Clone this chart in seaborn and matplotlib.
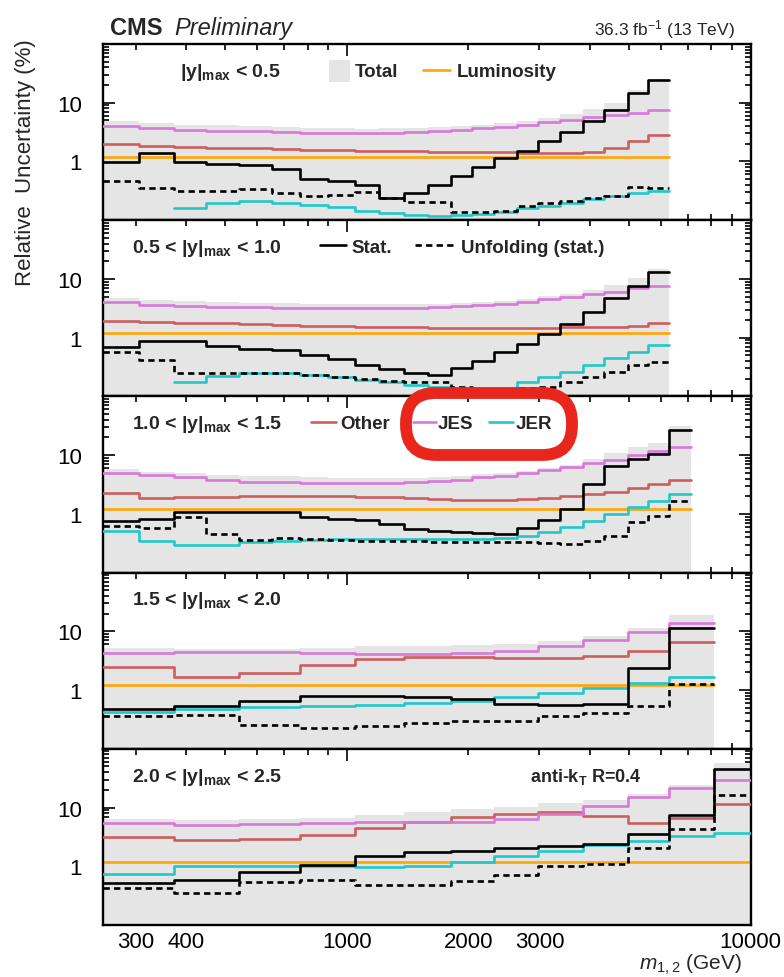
import matplotlib
matplotlib.use("Agg")
import matplotlib.pyplot as plt
import seaborn as sns
from matplotlib.ticker import FixedLocator, FuncFormatter, LogLocator, NullFormatter
from matplotlib.patches import Rectangle, FancyBboxPatch
from matplotlib.lines import Line2D
from matplotlib.transforms import IdentityTransform

sns.set_style("ticks")
plt.rcParams["font.family"] = ["Liberation Sans", "DejaVu Sans"]
plt.rcParams["mathtext.fontset"] = "custom"
plt.rcParams["mathtext.rm"] = "Liberation Sans"
plt.rcParams["mathtext.it"] = "Liberation Sans:italic"
plt.rcParams["mathtext.bf"] = "Liberation Sans:bold"

# ---------------- data ----------------
EDGES_FINE = [249, 306, 373, 447, 542, 651, 764, 897, 1047, 1201, 1385, 1589, 1813,
              2044, 2317, 2644, 2980, 3380, 3855, 4346, 4986, 5560, 6270, 7130]
EDGES_COARSE = [249, 373, 542, 764, 1047, 1385, 1813, 2317, 2980, 3855, 4986, 6270, 8100, 10000]

LUMI = 1.2

P1_TOTAL = [4.8, 4.55, 4.25, 4.1, 4.0, 3.85, 3.72, 3.66, 3.64, 3.65, 3.7, 3.85, 4.03, 4.22, 4.5, 4.86, 5.5, 6.37, 7.83, 10.0, 16.2, 25.3]
P1_JES = [3.96, 3.66, 3.48, 3.34, 3.26, 3.13, 3.05, 3.01, 3.01, 3.05, 3.13, 3.30, 3.48, 3.66, 3.91, 4.18, 4.64, 5.15, 5.72, 6.18, 6.69, 7.43]
P1_OTHER = [1.98, 1.86, 1.79, 1.72, 1.67, 1.63, 1.59, 1.55, 1.53, 1.51, 1.49, 1.47, 1.47, 1.45, 1.43, 1.39, 1.39, 1.38, 1.47, 1.7, 2.2, 2.85]
P1_STAT = [0.99, 1.38, 0.97, 0.92, 0.87, 0.745, 0.50, 0.47, 0.39, 0.235, 0.286, 0.40, 0.57, 0.795, 1.13, 1.53, 2.26, 3.22, 4.95, 7.62, 14.5, 24.0]
P1_UNF = [0.47, 0.353, 0.318, 0.318, 0.34, 0.29, 0.262, 0.268, 0.306, 0.235, 0.201, 0.201, 0.14, 0.136, 0.145, 0.177, 0.194, 0.215, 0.235, 0.262, 0.372, 0.349]
P1_JER = [None, None, 0.161, 0.20, 0.21, 0.20, 0.184, 0.17, 0.145, 0.133, 0.124, 0.119, 0.123, 0.128, 0.14, 0.159, 0.177, 0.20, 0.23, 0.255, 0.29, 0.31]

P2_TOTAL = [4.69, 4.36, 4.21, 4.07, 3.96, 3.86, 3.79, 3.76, 3.74, 3.72, 3.74, 3.8, 3.91, 4.09, 4.27, 4.58, 5.07, 5.62, 6.5, 7.93, 10.5, 14.5]
P2_JES = [4.0, 3.65, 3.51, 3.37, 3.28, 3.2, 3.16, 3.16, 3.16, 3.16, 3.2, 3.28, 3.41, 3.6, 3.79, 4.1, 4.55, 4.99, 5.54, 6.07, 7.01, 7.68]
P2_OTHER = [1.94, 1.82, 1.78, 1.75, 1.71, 1.67, 1.6, 1.56, 1.54, 1.5, 1.5, 1.46, 1.46, 1.44, 1.44, 1.44, 1.46, 1.5, 1.5, 1.54, 1.6, 1.75]
P2_STAT = [0.684, 0.887, 0.865, 0.73, 0.64, 0.625, 0.514, 0.434, 0.347, 0.293, 0.247, 0.235, 0.30, 0.405, 0.562, 0.78, 1.15, 1.71, 2.77, 4.67, 7.48, 12.9]
P2_UNF = [0.578, 0.423, 0.251, 0.251, 0.251, 0.251, 0.235, 0.211, 0.198, 0.185, 0.173, 0.173, 0.143, 0.135, 0.135, 0.14, 0.143, 0.173, 0.211, 0.263, 0.342, 0.38]
P2_JER = [None, None, 0.178, 0.225, 0.247, 0.25, 0.235, 0.211, 0.193, 0.173, 0.155, 0.143, 0.133, 0.13, 0.13, 0.173, 0.211, 0.257, 0.342, 0.45, 0.578, 0.75]

P3_TOTAL = [5.7, 5.2, 4.97, 4.62, 4.4, 4.34, 4.2, 4.16, 4.14, 4.1, 4.15, 4.24, 4.43, 4.74, 4.99, 5.41, 6.09, 6.76, 8.44, 10.95, 13.6, 16.1, 30.8]
P3_JES = [4.96, 4.59, 4.19, 3.82, 3.53, 3.44, 3.31, 3.31, 3.31, 3.31, 3.44, 3.58, 3.82, 4.19, 4.47, 4.9, 5.58, 6.2, 7.35, 8.37, 10.05, 11.6, 13.6]
P3_OTHER = [2.27, 1.84, 1.91, 1.96, 1.99, 2.04, 2.04, 1.99, 1.96, 1.91, 1.86, 1.79, 1.75, 1.72, 1.72, 1.79, 1.86, 1.99, 2.18, 2.39, 2.72, 3.23, 3.82]
P3_STAT = [0.765, 0.818, 1.06, 1.06, 1.09, 1.06, 0.895, 0.818, 0.787, 0.673, 0.553, 0.518, 0.485, 0.466, 0.454, 0.567, 0.787, 1.21, 3.23, 6.46, 8.6, 10.5, 27.2]
P3_UNF = [0.63, 0.567, 0.895, 0.454, 0.359, 0.383, 0.373, 0.364, 0.35, 0.35, 0.345, 0.336, 0.336, 0.336, 0.336, 0.33, 0.319, 0.307, 0.35, 0.426, 0.736, 0.908, 1.68]
P3_JER = [0.518, 0.35, 0.299, 0.299, 0.328, 0.35, 0.364, 0.373, 0.373, 0.373, 0.373, 0.373, 0.373, 0.373, 0.383, 0.426, 0.497, 0.605, 0.765, 0.995, 1.29, 1.68, 2.18]

P4_TOTAL = [5.12, 5.01, 5.03, 5.28, 5.54, 5.69, 5.87, 6.07, 6.75, 8.32, 11.3, 19.1]
P4_JES = [4.28, 4.5, 4.39, 4.28, 4.11, 4.11, 4.28, 4.69, 5.56, 7.21, 9.86, 13.9]
P4_OTHER = [2.44, 1.64, 1.95, 2.67, 3.38, 3.61, 3.7, 3.52, 3.47, 3.75, 4.69, 6.5]
P4_STAT = [0.476, 0.542, 0.66, 0.803, 0.782, 0.752, 0.705, 0.579, 0.557, 0.57, 2.38, 11.2]
P4_UNF = [0.366, 0.381, 0.254, 0.223, 0.248, 0.275, 0.294, 0.301, 0.366, 0.406, 0.542, 1.27]
P4_JER = [0.418, 0.476, 0.508, 0.542, 0.557, 0.594, 0.643, 0.752, 0.879, 1.07, 1.32, 1.65]

P5_TOTAL = [6.47, 6.03, 6.29, 6.73, 7.47, 8.28, 9.27, 10.4, 11.8, 13.5, 16.7, 24.1, 57.9]
P5_JES = [5.45, 5.05, 5.25, 5.45, 5.6, 5.6, 5.74, 6.38, 7.76, 10.8, 14.9, 21.2, 29.8]
P5_OTHER = [3.11, 2.8, 2.91, 3.4, 4.43, 5.6, 6.81, 7.76, 8.28, 7.28, 5.45, 6.64, 11.5]
P5_STAT = [0.519, 0.592, 0.809, 1.05, 1.48, 1.73, 1.84, 2.02, 2.18, 2.39, 3.55, 7.47, 45.3]
P5_UNF = [0.421, 0.351, 0.547, 0.592, 0.486, 0.486, 0.569, 0.71, 1.0, 1.09, 2.05, 4.32, 16.4]
P5_JER = [0.74, 1.03, 1.03, 1.03, 0.96, 1.03, 1.2, 1.48, 1.84, 2.3, 2.73, 3.24, 3.69]

PANEL_LABELS = [r"$\mathbf{|y|_{max}}$ < 0.5",
                r"0.5 < $\mathbf{|y|_{max}}$ < 1.0",
                r"1.0 < $\mathbf{|y|_{max}}$ < 1.5",
                r"1.5 < $\mathbf{|y|_{max}}$ < 2.0",
                r"2.0 < $\mathbf{|y|_{max}}$ < 2.5"]

X_TICK_LABELS = {300: "300", 400: "400", 1000: "1000", 2000: "2000", 3000: "3000", 10000: "10000"}

PANELS = [
    (EDGES_FINE, P1_TOTAL, P1_JES, P1_OTHER, P1_STAT, P1_UNF, P1_JER),
    (EDGES_FINE, P2_TOTAL, P2_JES, P2_OTHER, P2_STAT, P2_UNF, P2_JER),
    (EDGES_FINE, P3_TOTAL, P3_JES, P3_OTHER, P3_STAT, P3_UNF, P3_JER),
    (EDGES_COARSE, P4_TOTAL, P4_JES, P4_OTHER, P4_STAT, P4_UNF, P4_JER),
    (EDGES_COARSE, P5_TOTAL, P5_JES, P5_OTHER, P5_STAT, P5_UNF, P5_JER),
]

# ---------------- style ----------------
C_TOTAL = "#e5e5e5"
C_JES = "#da78da"
C_OTHER = "#cc5e5e"
C_JER = "#22c8c8"
C_LUMI = "#ffa500"
C_STAT = "black"
LW = 1.9
DASH = (0, (2.4, 1.6))


def step(ax, edges, vals, color, ls="-", z=3):
    idx = [i for i, v in enumerate(vals) if v is not None]
    i0, i1 = idx[0], idx[-1]
    x = list(edges[i0:i1 + 2])
    y = [vals[i] for i in range(i0, i1 + 1)]
    y = y + [y[-1]]
    sns.lineplot(x=x, y=y, drawstyle="steps-post", estimator=None, sort=False,
                 color=color, lw=LW, linestyle=ls, ax=ax, legend=False, zorder=z)


W, H = 784, 978
L, R = 103, 750.5
TOP, BOT = 45, 926
PH = (BOT - TOP) / 5

fig = plt.figure(figsize=(W / 100, H / 100), dpi=100)

minor_x = [300, 400, 500, 600, 700, 800, 900, 2000, 3000, 4000, 5000, 6000, 7000, 8000, 9000]

for k, (edges, tot, jes, oth, stat, unf, jer) in enumerate(PANELS):
    y0 = TOP + k * PH
    ax = fig.add_axes([L / W, 1 - (y0 + PH) / H, (R - L) / W, PH / H])
    ax.set_xscale("log")
    ax.set_yscale("log")
    nb = len(tot)
    e = edges[:nb + 1]
    ax.fill_between(e, list(tot) + [tot[-1]], 1e-3, step="post", color=C_TOTAL, lw=0, zorder=1)
    step(ax, e, [LUMI] * nb, C_LUMI, z=2)
    step(ax, e, oth, C_OTHER, z=3)
    step(ax, e, jes, C_JES, z=3)
    step(ax, e, jer, C_JER, z=4)
    step(ax, e, unf, C_STAT, ls=DASH, z=5)
    step(ax, e, stat, C_STAT, z=6)

    ax.set_xlim(249, 10000)
    ax.set_ylim(0.1, 100)
    ax.set_xlabel("")
    ax.set_ylabel("")

    ax.xaxis.set_major_locator(FixedLocator([1000, 10000]))
    ax.xaxis.set_minor_locator(FixedLocator(minor_x))
    ax.yaxis.set_major_locator(FixedLocator([0.1, 1, 10, 100]))
    ax.yaxis.set_minor_locator(LogLocator(base=10, subs=[2, 3, 4, 5, 6, 7, 8, 9]))
    ax.yaxis.set_major_formatter(FuncFormatter(lambda v, p: {1: "1", 10: "10"}.get(round(v, 3), "")))
    ax.yaxis.set_minor_formatter(NullFormatter())
    if k == 4:
        fmt = FuncFormatter(lambda v, p: X_TICK_LABELS.get(int(round(v)), ""))
        ax.xaxis.set_major_formatter(fmt)
        ax.xaxis.set_minor_formatter(fmt)
    else:
        ax.xaxis.set_major_formatter(NullFormatter())
        ax.xaxis.set_minor_formatter(NullFormatter())

    ax.tick_params(which="both", direction="in", top=True, right=True, width=1.2,
                   labelsize=16, colors="black")
    ax.tick_params(which="major", length=8.8)
    ax.tick_params(which="minor", length=4.3)
    ax.tick_params(axis="y", which="both", pad=15)
    ax.tick_params(axis="x", which="both", pad=4)
    for s in ax.spines.values():
        s.set_linewidth(1.7)
        s.set_color("black")

    lx = 0.119 if k == 0 else 0.045
    ax.text(lx, 0.82, PANEL_LABELS[k], transform=ax.transAxes, fontsize=14,
            fontweight="bold", ha="left", va="baseline", zorder=10)

    def key_line(x0, x1, yy, color, ls="-"):
        ax.add_line(Line2D([x0, x1], [yy, yy], transform=ax.transAxes, color=color,
                           lw=LW, linestyle=ls, zorder=10))

    def key_text(x0, s):
        ax.text(x0, 0.82, s, transform=ax.transAxes, fontsize=13.5, fontweight="bold",
                ha="left", va="baseline", zorder=10)

    if k == 0:
        ax.add_patch(Rectangle((0.349, 0.784), 0.033, 0.125, transform=ax.transAxes,
                               facecolor=C_TOTAL, edgecolor="none", zorder=10))
        key_text(0.389, "Total")
        key_line(0.494, 0.536, 0.85, C_LUMI)
        key_text(0.547, "Luminosity")
    elif k == 1:
        key_line(0.335, 0.375, 0.858, C_STAT)
        key_text(0.383, "Stat.")
        key_line(0.482, 0.541, 0.858, C_STAT, DASH)
        key_text(0.553, "Unfolding (stat.)")
    elif k == 2:
        key_line(0.321, 0.360, 0.853, C_OTHER)
        key_text(0.366, "Other")
        key_line(0.479, 0.514, 0.853, C_JES)
        key_text(0.517, "JES")
        key_line(0.596, 0.633, 0.853, C_JER)
        key_text(0.638, "JER")
    elif k == 4:
        ax.text(0.659, 0.82, r"anti-k$_\mathbf{T}$ R=0.4", transform=ax.transAxes,
                fontsize=13, fontweight="bold", ha="left", va="baseline", zorder=10)

# titles and axis labels
fig.text(110 / W, 1 - 35 / H, "CMS", fontsize=17, fontweight="bold", ha="left", va="baseline")
fig.text(174 / W, 1 - 35 / H, "Preliminary", fontsize=17, fontstyle="italic", ha="left", va="baseline")
fig.text(735 / W, 1 - 35 / H, r"36.3 fb$^{-1}$ (13 TeV)", fontsize=12.5, ha="right", va="baseline")
fig.text(26 / W, 1 - 163 / H, "Relative  Uncertainty (%)", fontsize=16, rotation=90,
         ha="center", va="center")
fig.text(742 / W, 0.5 / H, r"$m_{1,2}$ (GeV)", fontsize=15, ha="right", va="bottom")

# red hand-drawn highlight around the JES / JER legend entries
ring = FancyBboxPatch((406, H - 456), 166, 62, boxstyle="round,pad=0,rounding_size=30",
                      transform=IdentityTransform(), facecolor="none", edgecolor="#e8261c",
                      linewidth=8.5, zorder=20)
fig.add_artist(ring)

fig.savefig("out.png", dpi=100)
